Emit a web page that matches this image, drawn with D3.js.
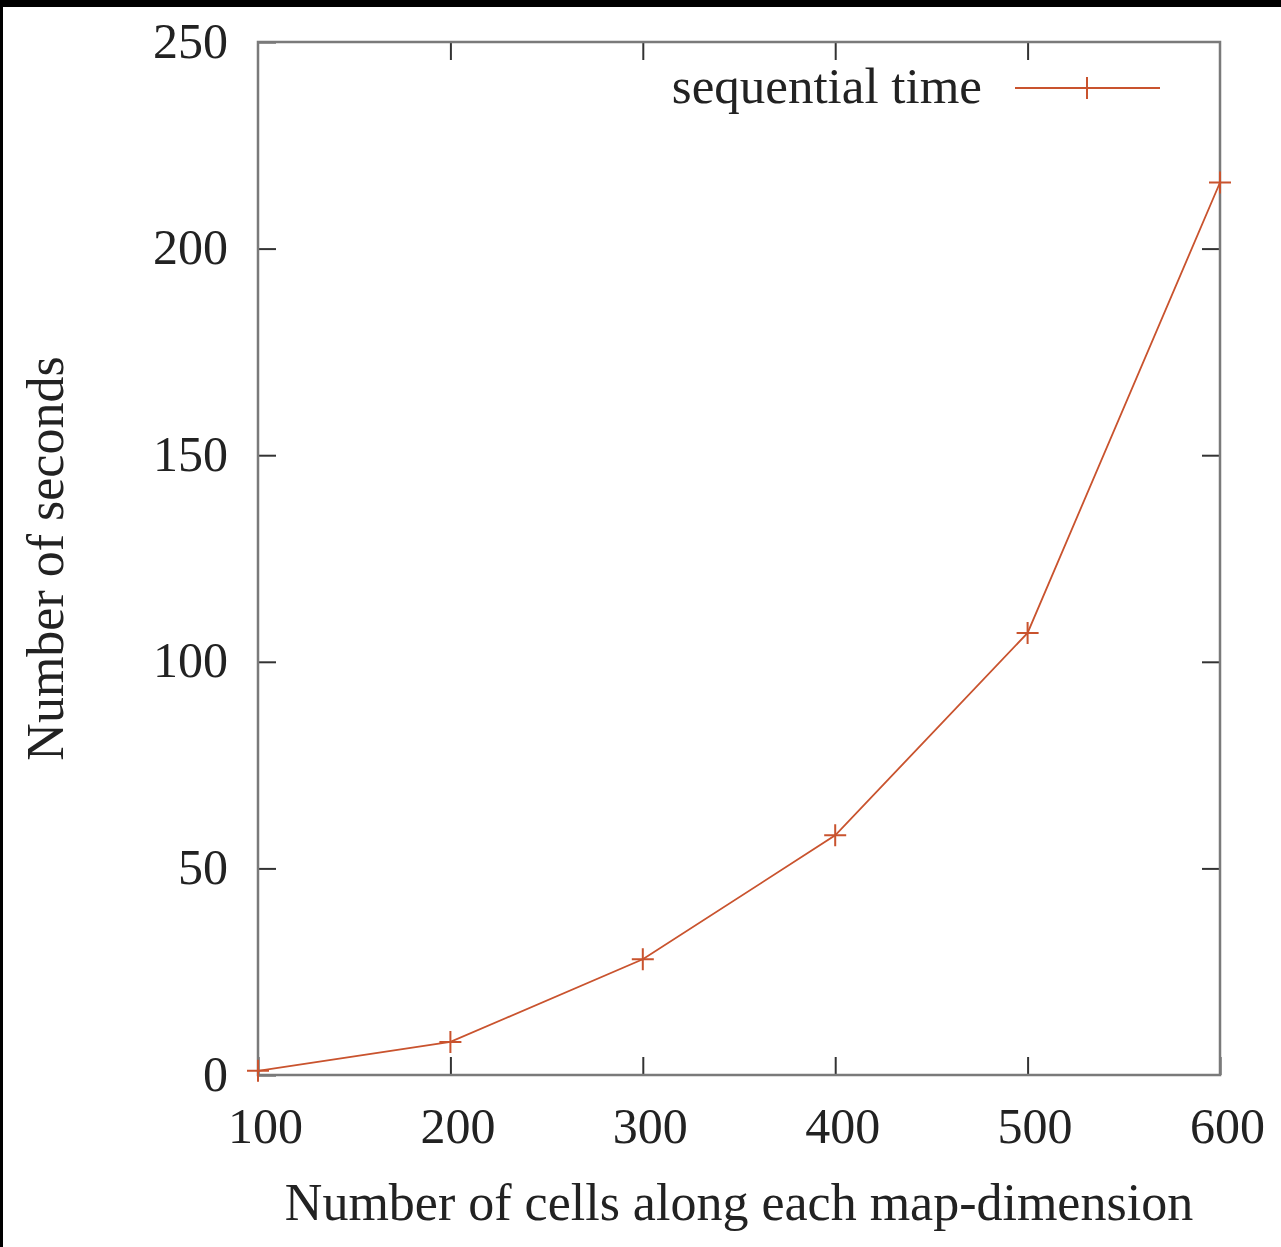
<!DOCTYPE html>
<html>
<head>
<meta charset="utf-8">
<script src="https://cdn.jsdelivr.net/npm/d3@7"></script>
<style>
  html, body { margin: 0; padding: 0; background: #000; }
  #chart svg { display: block; }
  text { font-family: "Liberation Serif", "Times New Roman", serif; fill: #222; }
</style>
</head>
<body>
<div id="chart"></div>
<script>
// so lieu doc tu hinh
var cells   = [100, 200, 300, 400, 500, 600];
var seconds = [1, 8, 28, 58, 107, 216];
var xTicks  = [100, 200, 300, 400, 500, 600];
var yTicks  = [0, 50, 100, 150, 200, 250];
var seriesName = "sequential time";

var W = 1281, H = 1247;
var margin = { top: 42, right: 61, bottom: 172, left: 258 },
    width  = W - margin.left - margin.right,
    height = H - margin.top - margin.bottom;

var lineColor = "#c9532e", frameColor = "#7a7a7a";

var root = d3.select("#chart").append("svg")
             .attr("width", W)
             .attr("height", H);

// nen trang, vien den o tren va ben trai
root.append("rect")
    .attr("x", 3).attr("y", 7)
    .attr("width", W - 3).attr("height", H - 7)
    .attr("fill", "#fff");

var svg = root.append("g")
              .attr("transform", `translate(${margin.left},${margin.top})`);

var x = d3.scaleLinear().domain([100, 600]).range([0, width]);
var y = d3.scaleLinear().domain([0, 250]).range([height, 0]);

var tickLen = 18;

// Truc X duoi + tren (tick huong vao trong)
svg.append("g")
   .attr("transform", `translate(0,${height})`)
   .call(d3.axisBottom(x).tickValues(xTicks).tickSize(-tickLen).tickPadding(32))
   .call(g => g.select(".domain").remove())
   .call(g => g.selectAll("line").attr("stroke", "#333").attr("stroke-width", 2))
   .call(g => g.selectAll("text").attr("font-size", 50).attr("dx", 7)
               .style("font-family", "Liberation Serif").attr("fill", "#222"));

svg.append("g")
   .call(d3.axisTop(x).tickValues(xTicks.slice(1, -1)).tickSize(-tickLen).tickFormat(""))
   .call(g => g.select(".domain").remove())
   .call(g => g.selectAll("line").attr("stroke", "#333").attr("stroke-width", 2));

// Truc Y trai + phai
svg.append("g")
   .call(d3.axisLeft(y).tickValues(yTicks).tickSize(-tickLen).tickPadding(30))
   .call(g => g.select(".domain").remove())
   .call(g => g.selectAll("line").attr("stroke", "#333").attr("stroke-width", 2))
   .call(g => g.selectAll("text").attr("font-size", 50).attr("dy", "0.3em")
               .style("font-family", "Liberation Serif").attr("fill", "#222"));

svg.append("g")
   .attr("transform", `translate(${width},0)`)
   .call(d3.axisRight(y).tickValues(yTicks.slice(1, -1)).tickSize(-tickLen).tickFormat(""))
   .call(g => g.select(".domain").remove())
   .call(g => g.selectAll("line").attr("stroke", "#333").attr("stroke-width", 2));

// Khung
svg.append("rect")
   .attr("width", width).attr("height", height)
   .attr("fill", "none")
   .attr("stroke", frameColor)
   .attr("stroke-width", 2.5);

// Duong du lieu
var data = cells.map((c, i) => ({ x: c, y: seconds[i] }));

svg.append("path")
   .datum(data)
   .attr("fill", "none")
   .attr("stroke", lineColor)
   .attr("stroke-width", 1.8)
   .attr("d", d3.line().x(d => x(d.x)).y(d => y(d.y)));

var plusPath = "M-11,0H11M0,-11V11";
svg.selectAll(".pt")
   .data(data)
   .enter().append("path")
   .attr("class", "pt")
   .attr("transform", d => `translate(${x(d.x)},${y(d.y)})`)
   .attr("d", plusPath)
   .attr("stroke", lineColor)
   .attr("stroke-width", 2);

// Chu thich
var legend = svg.append("g").attr("transform", "translate(0,46)");
legend.append("text")
      .attr("x", 982 - margin.left)
      .attr("dy", "0.3em")
      .attr("text-anchor", "end")
      .attr("font-size", 51)
      .text(seriesName);
legend.append("line")
      .attr("x1", 1015 - margin.left).attr("x2", 1160 - margin.left)
      .attr("stroke", lineColor).attr("stroke-width", 1.8);
legend.append("path")
      .attr("transform", `translate(${1087 - margin.left},0)`)
      .attr("d", plusPath)
      .attr("stroke", lineColor).attr("stroke-width", 2);

// Ten truc
svg.append("text")
   .attr("x", width / 2)
   .attr("y", 1220 - margin.top)
   .attr("text-anchor", "middle")
   .attr("font-size", 52)
   .text("Number of cells along each map-dimension");

svg.append("text")
   .attr("transform", `translate(${63 - margin.left},${height / 2}) rotate(-90)`)
   .attr("text-anchor", "middle")
   .attr("font-size", 52)
   .text("Number of seconds");
</script>
</body>
</html>
